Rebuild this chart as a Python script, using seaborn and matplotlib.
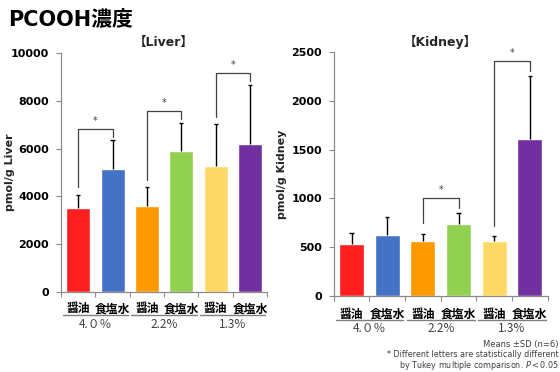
import numpy as np
import pandas as pd
import matplotlib
matplotlib.use("Agg")
import matplotlib.pyplot as plt
from matplotlib.transforms import blended_transform_factory
import seaborn as sns

sns.set_theme(style="white")
plt.rcParams["font.family"] = ["DejaVu Sans", "Noto Sans CJK JP"]

# ---- data ----
groups = ["4.０％", "2.2%", "1.3%"]
products = ["醤油", "食塩水"]
bar_colors = ["#FF1F1F", "#4472C4", "#FF9900", "#92D050", "#FFD966", "#7030A0"]

liver_mean = [3500, 5140, 3600, 5890, 5260, 6180]
liver_sd = [580, 1210, 780, 1190, 1780, 2490]

kidney_mean = [527, 629, 558, 741, 558, 1614]
kidney_sd = [113, 181, 78, 113, 51, 645]

# significant pairs (bar indices)
sig_pairs = {"liver": [(0, 1), (2, 3), (4, 5)], "kidney": [(2, 3), (4, 5)]}

liver_ticks = [0, 2000, 4000, 6000, 8000, 10000]
kidney_ticks = [0, 500, 1000, 1500, 2000, 2500]

CJK = ["Noto Sans CJK JP", "DejaVu Sans"]
SPINE = "#8C8C8C"
TEXT = "#404040"

fig = plt.figure(figsize=(5.6, 3.72), dpi=100)
ax_l = fig.add_axes([0.109, 0.215, 0.368, 0.6425])
ax_k = fig.add_axes([0.596, 0.205, 0.382, 0.654])


def draw_panel(ax, means, sds, ticks, pairs, title, ylabel, ylabel_x,
               top_pad, left_pad, right_pad, sub_y, grp_y, line_y):
    keys = [str(i) for i in range(len(means))]
    df = pd.DataFrame({"key": keys, "value": means})
    sns.barplot(data=df, x="key", y="value", hue="key", palette=bar_colors,
                saturation=1, width=0.7, legend=False, ax=ax, errorbar=None)
    ymax = ticks[-1]
    x = np.arange(len(means))
    tops = np.array(means) + np.array(sds)
    # upper SD bars
    ax.vlines(x, means, tops, color="black", lw=1.0, zorder=3)
    ax.hlines(tops, x - 0.06, x + 0.06, color="black", lw=1.0, zorder=3)

    # significance brackets
    for a, b in pairs:
        h = max(tops[a], tops[b]) + top_pad * ymax
        ax.plot([a, a, b, b],
                [tops[a] + left_pad * ymax, h, h, tops[b] + right_pad * ymax],
                color=TEXT, lw=0.9, zorder=3, clip_on=False)
        ax.text((a + b) / 2, h + 0.012 * ymax, "*", ha="center", va="bottom",
                fontsize=7, color=TEXT)

    ax.set_ylim(0, ymax)
    ax.set_xlim(-0.5, len(means) - 0.5)
    ax.set_yticks(ticks)
    ax.set_yticklabels([str(t) for t in ticks], fontsize=8,
                       fontweight="bold", color="black")
    ax.set_xticks(np.arange(-0.5, len(means), 1.0))
    ax.set_xticklabels([])
    ax.tick_params(axis="both", which="both", direction="out", length=3.5,
                   width=0.8, color=SPINE, left=True, bottom=True, pad=5)
    ax.set_xlabel("")
    ax.set_ylabel(ylabel, fontsize=8, fontweight="bold")
    ax.yaxis.set_label_coords(ylabel_x, 0.5)
    for s in ["top", "right"]:
        ax.spines[s].set_visible(False)
    for s in ["left", "bottom"]:
        ax.spines[s].set_color(SPINE)
        ax.spines[s].set_linewidth(0.9)
    ax.set_title(title, fontsize=9, fontweight="bold", pad=5)

    # category labels with group underline
    tr = blended_transform_factory(ax.transData, ax.transAxes)
    for g, gname in enumerate(groups):
        for p, pname in enumerate(products):
            i = 2 * g + p
            ax.text(i, sub_y, pname, transform=tr, ha="center", va="center",
                    fontsize=8.5, fontweight="bold", family=CJK, color="black")
        ax.plot([2 * g - 0.45, 2 * g + 1.45], [line_y, line_y], transform=tr,
                color="#7F7F7F", lw=1.0, clip_on=False)
        ax.text(2 * g + 0.5, grp_y, gname, transform=tr, ha="center",
                va="center", fontsize=8.5, family=CJK, color=TEXT)


draw_panel(ax_l, liver_mean, liver_sd, liver_ticks, sig_pairs["liver"],
           "【Liver】", "pmol/g Liver", -0.225, 0.048, 0.03, 0.015,
           -0.07, -0.137, -0.097)
draw_panel(ax_k, kidney_mean, kidney_sd, kidney_ticks, sig_pairs["kidney"],
           "【Kidney】", "pmol/g Kidney", -0.22, 0.06, 0.045, 0.02,
           -0.077, -0.135, -0.1)

fig.text(0.014, 0.945, "PCOOH濃度", fontsize=15, fontweight="bold",
         ha="left", va="center", color="black")

fig.text(0.998, 0.075, "Means ±SD (n=6)", fontsize=6, ha="right",
         va="center", color=TEXT)
fig.text(0.998, 0.046, "* Different letters are statistically different",
         fontsize=5.8, ha="right", va="center", color=TEXT)
fig.text(0.998, 0.018, r"by Tukey multiple comparison. $\it{P<0.05}$",
         fontsize=5.8, ha="right", va="center", color=TEXT)

fig.savefig("out.png", dpi=100)
